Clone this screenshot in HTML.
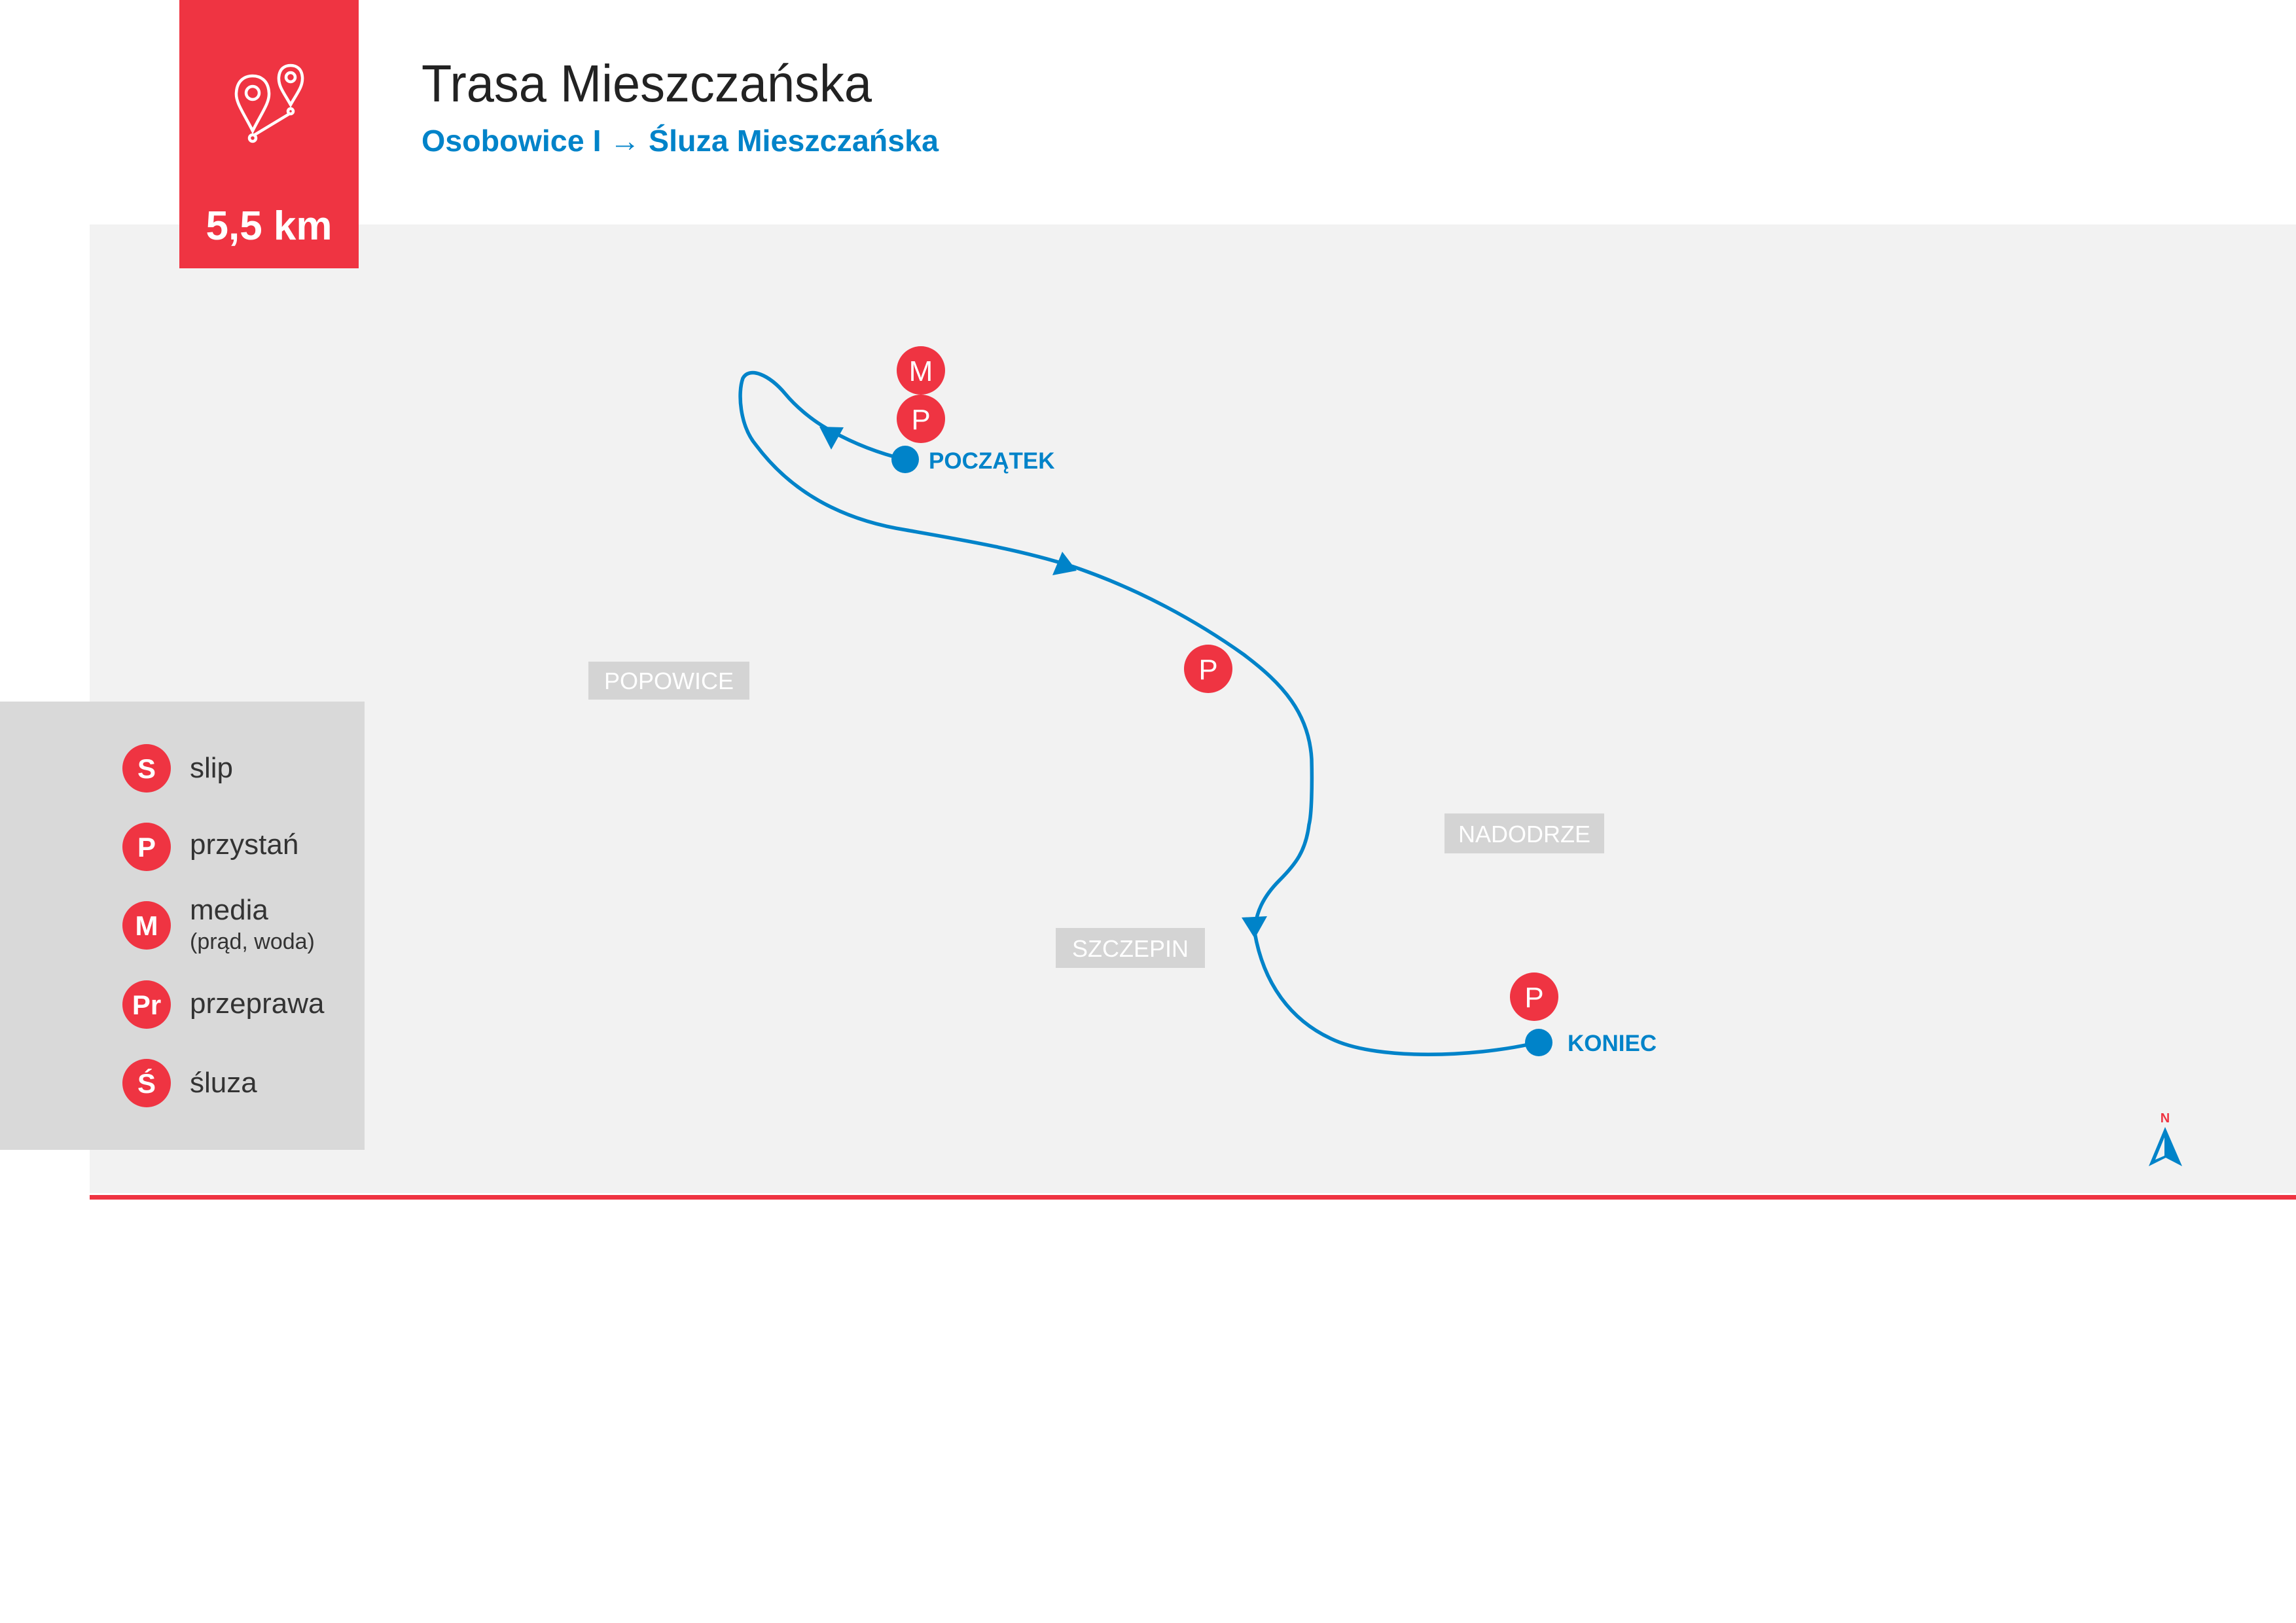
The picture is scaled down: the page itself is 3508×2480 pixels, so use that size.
<!DOCTYPE html>
<html><head><meta charset="utf-8"><style>
html,body{margin:0;padding:0;background:#fff;}
svg{display:block;}
</style></head><body>
<svg width="3508" height="2480" viewBox="0 0 3508 2480" xmlns="http://www.w3.org/2000/svg" font-family="'Liberation Sans', sans-serif">
<rect x="0" y="0" width="3508" height="2480" fill="#fff"/>
<rect x="137" y="343" width="3371" height="1480" fill="#f2f2f2"/>
<rect x="137" y="1826" width="3371" height="7" fill="#ef3442"/>
<!-- red header box -->
<rect x="274" y="0" width="274" height="410" fill="#ef3442"/>
<g fill="none" stroke="#fff" stroke-width="4.5">
  <path d="M386,200 C372,172 360,157 361,142 C362,122 375,116 386,116 C397,116 410,122 411,142 C412,157 400,172 386,200 Z"/>
  <circle cx="386" cy="142" r="10"/>
  <path d="M444,160 C434,142 425,132 426,118 C427,104 436,100 444,100 C452,100 461,104 462,118 C463,132 454,142 444,160 Z"/>
  <circle cx="444" cy="118" r="7"/>
  <circle cx="386" cy="211" r="5"/>
  <circle cx="444" cy="170" r="4"/>
  <path d="M389,206 L442,174"/>
</g>
<text x="411" y="366" font-size="62" font-weight="bold" fill="#fff" text-anchor="middle">5,5 km</text>
<text x="644" y="155" font-size="80" fill="#222" textLength="688" lengthAdjust="spacingAndGlyphs">Trasa Mieszczańska</text>
<text x="644" y="231" font-size="46" font-weight="bold" fill="#0083c9" textLength="790" lengthAdjust="spacingAndGlyphs">Osobowice I → Śluza Mieszczańska</text>
<!-- area labels -->
<rect x="899" y="1011" width="246" height="58" fill="#d4d4d4"/>
<text x="1022" y="1053" font-size="36" fill="#fff" text-anchor="middle">POPOWICE</text>
<rect x="2207" y="1243" width="244" height="61" fill="#d4d4d4"/>
<text x="2329" y="1287" font-size="36" fill="#fff" text-anchor="middle">NADODRZE</text>
<rect x="1613" y="1418" width="228" height="61" fill="#d4d4d4"/>
<text x="1727" y="1462" font-size="36" fill="#fff" text-anchor="middle">SZCZEPIN</text>
<!-- route -->
<g fill="none" stroke="#0083c9" stroke-width="5.5" stroke-linecap="round">
  <path d="M1382,702 C1340,692 1300,676 1262,654 C1238,640 1215,620 1200,602 C1175,572 1145,560 1135,578 C1127,600 1130,650 1155,680 C1200,740 1270,792 1385,810 C1470,825 1560,840 1640,866 C1740,900 1830,950 1900,1000 C1960,1045 2000,1090 2004,1160 C2005,1200 2004,1245 2000,1260 C1995,1300 1980,1320 1955,1345 C1930,1370 1918,1395 1917,1425 C1930,1500 1970,1560 2040,1590 C2110,1620 2250,1615 2340,1595"/>
</g>
<g fill="#0083c9">
  <polygon points="1252,652 1289,653 1270,687"/>
  <polygon points="1623,843 1645,872 1608,879"/>
  <polygon points="1897,1402 1936,1400 1917,1434"/>
  <circle cx="1383" cy="702" r="21"/>
  <circle cx="2351" cy="1593" r="21"/>
</g>
<text x="1419" y="716" font-size="35" font-weight="bold" fill="#0083c9">POCZĄTEK</text>
<text x="2395" y="1606" font-size="35" font-weight="bold" fill="#0083c9">KONIEC</text>
<!-- markers -->
<g font-size="44" fill="#fff" text-anchor="middle">
  <circle cx="1407" cy="566" r="37" fill="#ef3442"/><text x="1407" y="582">M</text>
  <circle cx="1407" cy="640" r="37" fill="#ef3442"/><text x="1407" y="656">P</text>
  <circle cx="1846" cy="1022" r="37" fill="#ef3442"/><text x="1846" y="1038">P</text>
  <circle cx="2344" cy="1523" r="37" fill="#ef3442"/><text x="2344" y="1539">P</text>
</g>
<!-- legend -->
<rect x="0" y="1072" width="557" height="685" fill="#d9d9d9"/>
<g font-size="42" font-weight="bold" fill="#fff" text-anchor="middle">
  <circle cx="224" cy="1174" r="37" fill="#ef3442"/><text x="224" y="1189">S</text>
  <circle cx="224" cy="1294" r="37" fill="#ef3442"/><text x="224" y="1309">P</text>
  <circle cx="224" cy="1414" r="37" fill="#ef3442"/><text x="224" y="1429">M</text>
  <circle cx="224" cy="1535" r="37" fill="#ef3442"/><text x="224" y="1550">Pr</text>
  <circle cx="224" cy="1655" r="37" fill="#ef3442"/><text x="224" y="1670">Ś</text>
</g>
<g font-size="44" fill="#333">
  <text x="290" y="1188">slip</text>
  <text x="290" y="1305">przystań</text>
  <text x="290" y="1405">media</text>
  <text x="290" y="1450" font-size="34">(prąd, woda)</text>
  <text x="290" y="1548">przeprawa</text>
  <text x="290" y="1669">śluza</text>
</g>
<!-- compass -->
<text x="3308" y="1715" font-size="20" font-weight="bold" fill="#ef3442" text-anchor="middle">N</text>
<polygon points="3308,1722 3334,1782 3309,1769 3283,1782" fill="#0083c9"/>
<polygon points="3307,1738 3307,1766 3293,1772" fill="#f2f2f2"/>
</svg>
</body></html>
